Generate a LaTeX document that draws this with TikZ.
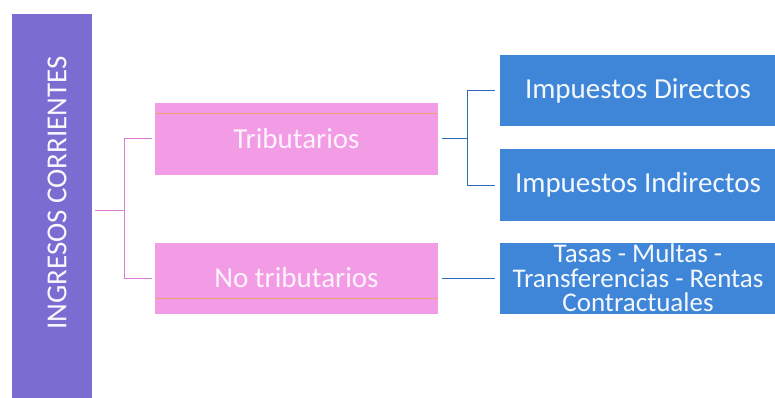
\documentclass[tikz,border=0pt]{standalone}
\usepackage{fontspec}
\setmainfont{Carlito}
\usetikzlibrary{positioning}
\definecolor{barpurple}{HTML}{7B6CD2}
\definecolor{boxpink}{HTML}{F39CE6}
\definecolor{linepink}{HTML}{DF7CD6}
\definecolor{boxblue}{HTML}{3F86D8}
\definecolor{lineblue}{HTML}{2F6AB6}
\definecolor{stripe}{HTML}{F0A070}
\newcommand{\bigfont}{\fontsize{29}{25}\selectfont}
\newcommand{\tightfont}{\fontsize{27}{24.5}\selectfont}
\tikzset{
  pinkbox/.style={fill=boxpink, text=white!88!boxpink, minimum width=283pt, minimum height=71pt, inner sep=0pt, font=\bigfont},
  bluebox/.style={fill=boxblue, text=white!94!boxblue, minimum width=276pt, minimum height=71pt, inner sep=0pt, align=center, font=\bigfont},
  pinkline/.style={draw=linepink, line width=1pt},
  blueline/.style={draw=lineblue, line width=1pt}
}

\begin{document}
\begin{tikzpicture}[x=1pt,y=-1pt]
      \useasboundingbox (0,0) rectangle (775,398);
      % left bar
      \node[fill=barpurple, minimum width=80pt, minimum height=385pt, inner sep=0pt] (bar) at (52,206.5) {};
      \node[rotate=90, text=white!95!barpurple, font=\bigfont, inner sep=0pt] (title) at (57,193) {INGRESOS CORRIENTES};
      % middle level
      \node[pinkbox] (trib) at (296.5,139) {Tributarios};
      \node[pinkbox] (notrib) at (296.5,278) {No tributarios};
      \draw[stripe, line width=1.2pt] ([yshift=-10pt]trib.north west) -- ([yshift=-10pt]trib.north east);
      \draw[stripe, line width=1.2pt] ([yshift=15pt]notrib.south west) -- ([yshift=15pt]notrib.south east);
      % right level
      \node[bluebox] (dir) at (638,91) {Impuestos Directos};
      \node[bluebox] (ind) at (638,185) {Impuestos Indirectos};
      \node[bluebox, font=\tightfont] (tasas) at (638,278) {Tasas - Multas -\\Transferencias - Rentas\\Contractuales};
      % connectors
      \coordinate (pj) at (124,210);
      \coordinate (bj) at (467,139);
      \draw[pinkline] ([xshift=3pt]bar.east |- pj) -- (pj);
      \draw[pinkline, shorten >=3pt] (pj) |- (trib.west);
      \draw[pinkline, shorten >=3pt] (pj) |- (notrib.west);
      \draw[blueline, shorten <=4pt] (trib.east) -- (bj);
      \draw[blueline, shorten >=5pt] (bj) |- (dir.west);
      \draw[blueline, shorten >=5pt] (bj) |- (ind.west);
      \draw[blueline, shorten <=4pt, shorten >=5pt] (notrib.east) -- (tasas.west);
\end{tikzpicture}
\end{document}
